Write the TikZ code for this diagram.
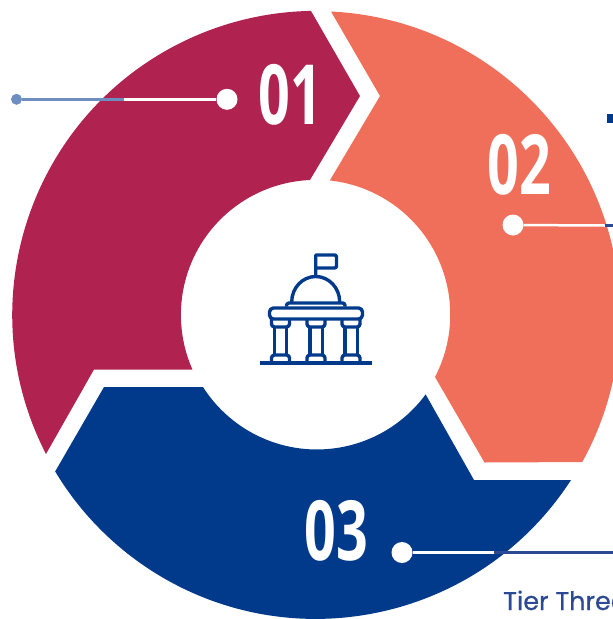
\documentclass[tikz,border=0pt]{standalone}
\usepackage{fontspec}
\setmainfont{Liberation Sans}
\newfontfamily\tierfont[FakeBold=0.6]{Poppins}
\newfontfamily\numfont[Numbers=Lining]{Open Sans}
\definecolor{crim}{HTML}{B02350}
\definecolor{coral}{HTML}{EF6F5B}
\definecolor{navy}{HTML}{013A8B}
\definecolor{leadblue}{HTML}{6D8EBF}
\definecolor{leaddark}{HTML}{2C4A94}
\tikzset{
  seg/.style={draw=none},
  whitedot/.style={circle,fill=white,inner sep=0pt,minimum size=21pt},
  bluedot/.style={circle,fill=leadblue,inner sep=0pt,minimum size=11pt},
  numlabel/.style={text=white,font=\numfont\bfseries\fontsize{83}{83}\selectfont,xscale=0.67,inner sep=0pt,anchor=base},
  icon/.style={draw=navy,line width=3.4pt,line join=round,fill=none},
  whiteline/.style={draw=white,line width=2.5pt},
  lead/.style={line width=2.5pt}
}
\begin{document}
\begin{tikzpicture}[x=1pt,y=-1pt]
\useasboundingbox (0,0) rectangle (613,619);
\clip (0,0) rectangle (613,619);
% segments
\fill[crim,seg] (46,454) arc[start angle=152.76,end angle=269,radius=304] -- (360,96) -- (310,180)
  arc[start angle=267.5,end angle=156.1,radius=135] -- (94,369.5) -- cycle;
\fill[coral,seg] (331,11.5) arc[start angle=-87.2,end angle=28.9,radius=304] -- (484.5,462.5) -- (435,377)
  arc[start angle=27.5,end angle=-83.8,radius=135] -- (380,96) -- cycle;
\fill[navy,seg] (571,480) arc[start angle=32.9,end angle=149,radius=304] -- (104,387) -- (203,387)
  arc[start angle=147.5,end angle=36.3,radius=135] -- (474,480) -- cycle;
% leaders
\node[whitedot] (d1) at (227,99.3) {};
\node[bluedot] (b1) at (16.5,99.3) {};
\coordinate (m1) at (124,99.3);
\draw[whiteline] (d1) -- (m1);
\draw[lead,leadblue] (m1) -- (b1);
\node[whitedot] (d2) at (513,225) {};
\coordinate (m2) at (605,225.5);
\coordinate (e2) at (613,225.5);
\draw[whiteline] (d2) -- (m2);
\draw[lead,leaddark] (m2) -- (e2);
\node[whitedot] (d3) at (402,552.5) {};
\coordinate (m3) at (494,552.5);
\coordinate (e3) at (613,552.5);
\draw[whiteline] (d3) -- (m3);
\draw[lead,leaddark] (m3) -- (e3);
% numbers
\node[numlabel] (n1) at (290,124) {01};
\node[numlabel] (n2) at (519.5,194) {02};
\node[numlabel] (n3) at (336.5,560) {03};
% small mark and text
\fill[navy] (606.7,114) rectangle (613,122.5);
\node[anchor=base west,inner sep=0pt,text=leaddark,font=\tierfont\fontsize{25.5}{25.5}\selectfont] (t3) at (503,610) {Tier Three};
% icon
\draw[icon,line width=4pt] (260,363.3) -- (372,363.3);
\draw[icon] (315.7,276) -- (315.7,255) -- (335,255) [rounded corners=2pt] -- (336.5,255) -- (336.5,268) -- (315.7,268);
\draw[icon] (291.7,302) arc[start angle=180,end angle=360,x radius=24,y radius=25.5];
\draw[icon,rounded corners=2.5pt] (286.5,306.5) -- (286.5,303) -- (345,303) -- (345,306.5);
\draw[icon,rounded corners=4pt] (269.5,308) rectangle (362.5,319);
\foreach \c in {280.5,316,351}{
  \draw[icon,rounded corners=3pt] (\c-9,319) -- (\c-9,327) -- (\c+9,327) -- (\c+9,319);
  \draw[icon] (\c-6.2,327) -- (\c-6.2,355) (\c+6.2,327) -- (\c+6.2,355);
  \draw[icon,rounded corners=3pt] (\c-9,363) -- (\c-9,355) -- (\c+9,355) -- (\c+9,363);
}
\end{tikzpicture}
\end{document}
